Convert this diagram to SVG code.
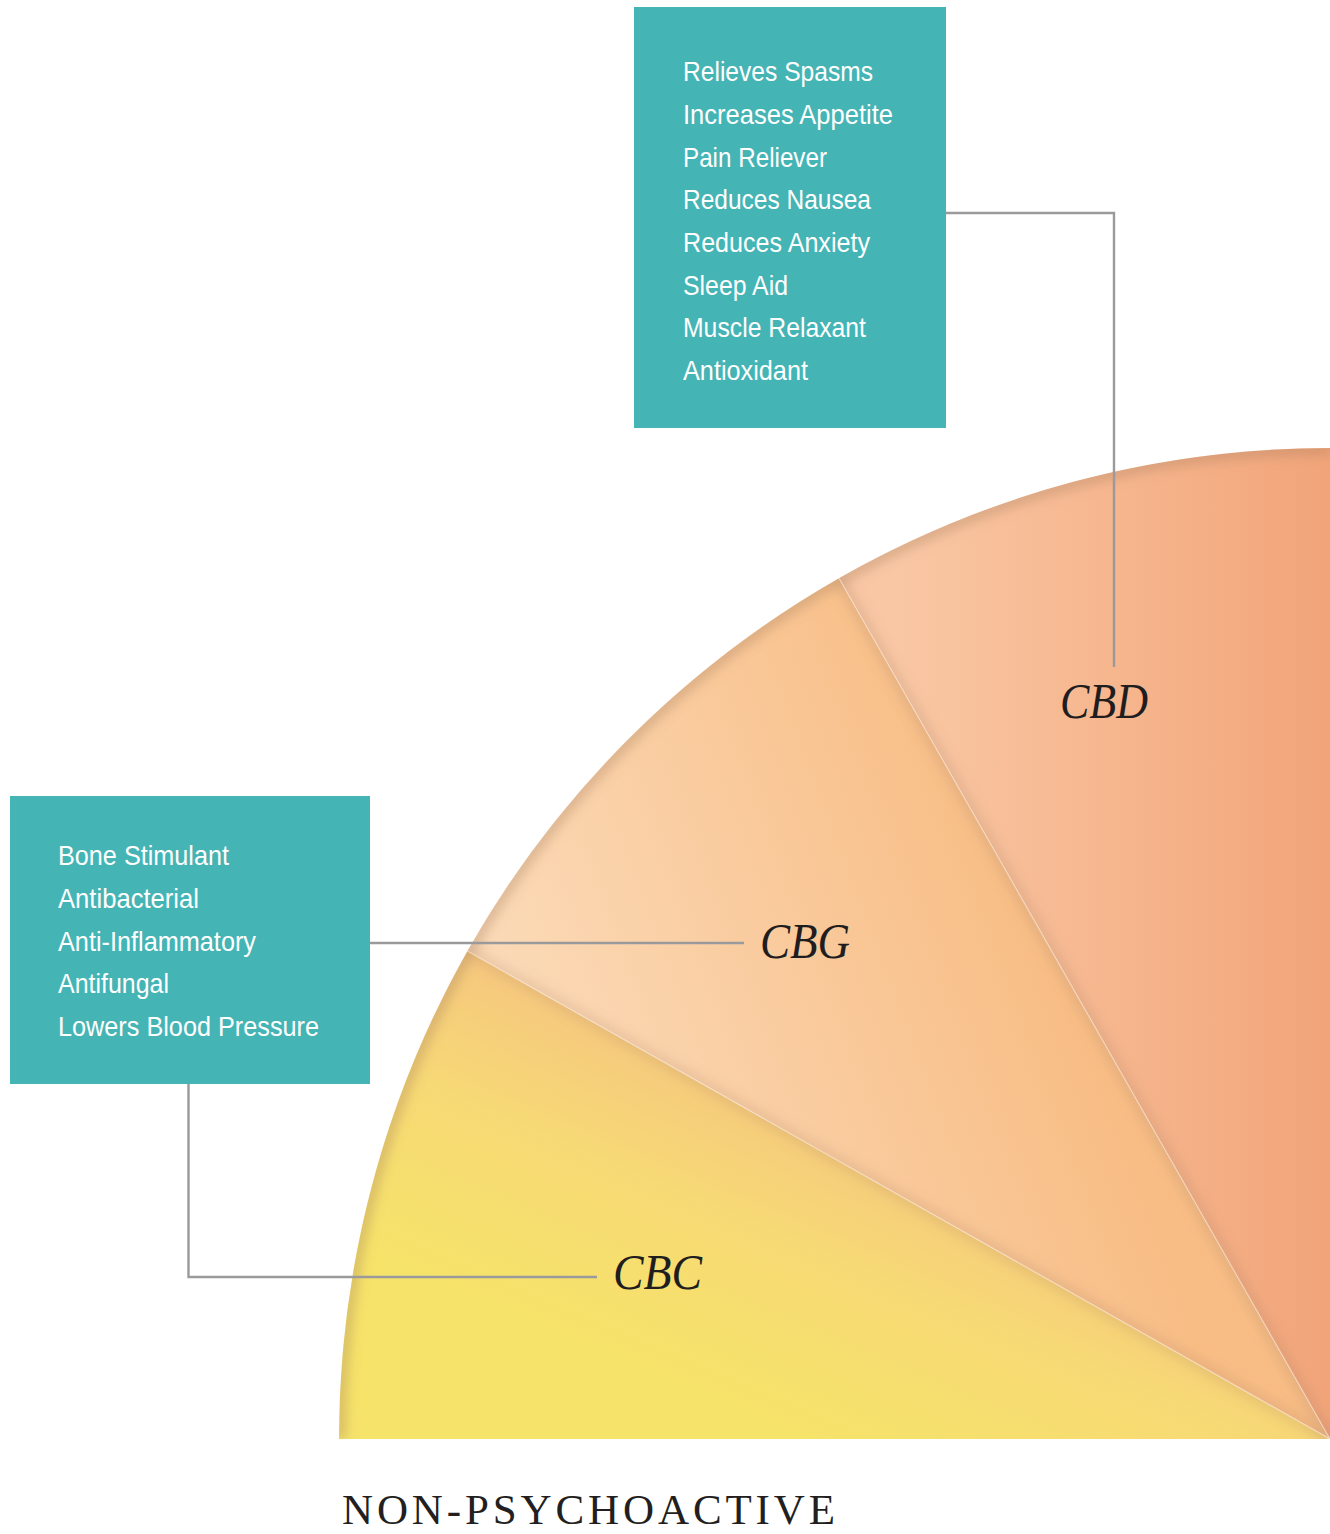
<svg xmlns="http://www.w3.org/2000/svg" width="1330" height="1534" viewBox="0 0 1330 1534">
<style>
.box{fill:#45B4B5}
.bt{font-family:"Liberation Sans",Arial,sans-serif;font-size:28px;fill:#ffffff}
.lbl{font-family:"Liberation Serif","Times New Roman",serif;font-style:italic;font-size:50px;fill:#1f1d1e}
.conn{fill:none;stroke:#9a9a9c;stroke-width:2.4}
.title{font-family:"Liberation Serif","Times New Roman",serif;font-size:43px;fill:#231f20}
</style>
<defs>
<linearGradient id="gCBD" gradientUnits="userSpaceOnUse" x1="900" y1="0" x2="1330" y2="0">
<stop offset="0" stop-color="#F9C7A4"/>
<stop offset="0.5" stop-color="#F6B68E"/>
<stop offset="1" stop-color="#F2A479"/>
</linearGradient>
<linearGradient id="gCBG" gradientUnits="userSpaceOnUse" x1="520" y1="1000" x2="1000" y2="820">
<stop offset="0" stop-color="#FBD9B6"/>
<stop offset="1" stop-color="#F8BD85"/>
</linearGradient>
<linearGradient id="gCBC" gradientUnits="userSpaceOnUse" x1="560" y1="1330" x2="700" y2="1000">
<stop offset="0" stop-color="#F6E36A"/>
<stop offset="0.45" stop-color="#F7DA74"/>
<stop offset="1" stop-color="#F5C282"/>
</linearGradient>
<clipPath id="pieClip">
<path d="M1330,1439 L339,1439 A991,991 0 0 1 1330,448 Z"/>
</clipPath>
<filter id="blur" x="-20%" y="-20%" width="140%" height="140%">
<feGaussianBlur stdDeviation="6"/>
</filter>
</defs>
<g id="pie">
<path id="slice-cbc" d="M1330,1439 L339,1439 A991,991 0 0 1 467.4,951 Z" fill="url(#gCBC)"/>
<path id="slice-cbg" d="M1330,1439 L467.4,951 A991,991 0 0 1 839,578.2 Z" fill="url(#gCBG)"/>
<path id="slice-cbd" d="M1330,1439 L839,578.2 A991,991 0 0 1 1330,448 Z" fill="url(#gCBD)"/>
<g clip-path="url(#pieClip)">
<path d="M339,1439 A991,991 0 0 1 1330,448" fill="none" stroke="#a0785a" stroke-opacity="0.35" stroke-width="14" filter="url(#blur)"/>
<path d="M339,1439 L1330,1439" fill="none" stroke="#a0785a" stroke-opacity="0.25" stroke-width="10" filter="url(#blur)"/>
<path d="M1330,1439 L839,578.2" fill="none" stroke="#a0785a" stroke-opacity="0.25" stroke-width="10" filter="url(#blur)"/>
<path d="M1330,1439 L467.4,951" fill="none" stroke="#a0785a" stroke-opacity="0.22" stroke-width="10" filter="url(#blur)"/>
<path d="M1330,1439 L839,578.2 M1330,1439 L467.4,951" fill="none" stroke="#fff3e6" stroke-opacity="0.5" stroke-width="1.2"/>
</g>
</g>
<g id="connectors">
<path class="conn" d="M946,213 H1114 V667"/>
<path class="conn" d="M370,943 H744"/>
<path class="conn" d="M188.5,1084 V1277 H597"/>
</g>
<g id="cbd-box">
<rect class="box" x="634" y="7" width="312" height="421"/>
<text class="bt" x="683" y="81" textLength="190" lengthAdjust="spacingAndGlyphs">Relieves Spasms</text>
<text class="bt" x="683" y="124" textLength="210" lengthAdjust="spacingAndGlyphs">Increases Appetite</text>
<text class="bt" x="683" y="167" textLength="144" lengthAdjust="spacingAndGlyphs">Pain Reliever</text>
<text class="bt" x="683" y="209" textLength="188" lengthAdjust="spacingAndGlyphs">Reduces Nausea</text>
<text class="bt" x="683" y="252" textLength="187" lengthAdjust="spacingAndGlyphs">Reduces Anxiety</text>
<text class="bt" x="683" y="295" textLength="105" lengthAdjust="spacingAndGlyphs">Sleep Aid</text>
<text class="bt" x="683" y="337" textLength="183" lengthAdjust="spacingAndGlyphs">Muscle Relaxant</text>
<text class="bt" x="683" y="380" textLength="125" lengthAdjust="spacingAndGlyphs">Antioxidant</text>
</g>
<g id="cbg-cbc-box">
<rect class="box" x="10" y="796" width="360" height="288"/>
<text class="bt" x="58" y="865" textLength="171" lengthAdjust="spacingAndGlyphs">Bone Stimulant</text>
<text class="bt" x="58" y="908" textLength="141" lengthAdjust="spacingAndGlyphs">Antibacterial</text>
<text class="bt" x="58" y="951" textLength="198" lengthAdjust="spacingAndGlyphs">Anti-Inflammatory</text>
<text class="bt" x="58" y="993" textLength="111" lengthAdjust="spacingAndGlyphs">Antifungal</text>
<text class="bt" x="58" y="1036" textLength="261" lengthAdjust="spacingAndGlyphs">Lowers Blood Pressure</text>
</g>
<g id="cbd-label"><text class="lbl" x="1060" y="718" textLength="88" lengthAdjust="spacingAndGlyphs">CBD</text></g>
<g id="cbg-label"><text class="lbl" x="760" y="958" textLength="90" lengthAdjust="spacingAndGlyphs">CBG</text></g>
<g id="cbc-label"><text class="lbl" x="613" y="1289" textLength="89" lengthAdjust="spacingAndGlyphs">CBC</text></g>
<g id="title"><text class="title" x="342" y="1524" textLength="493" lengthAdjust="spacing">NON-PSYCHOACTIVE</text></g>
</svg>
